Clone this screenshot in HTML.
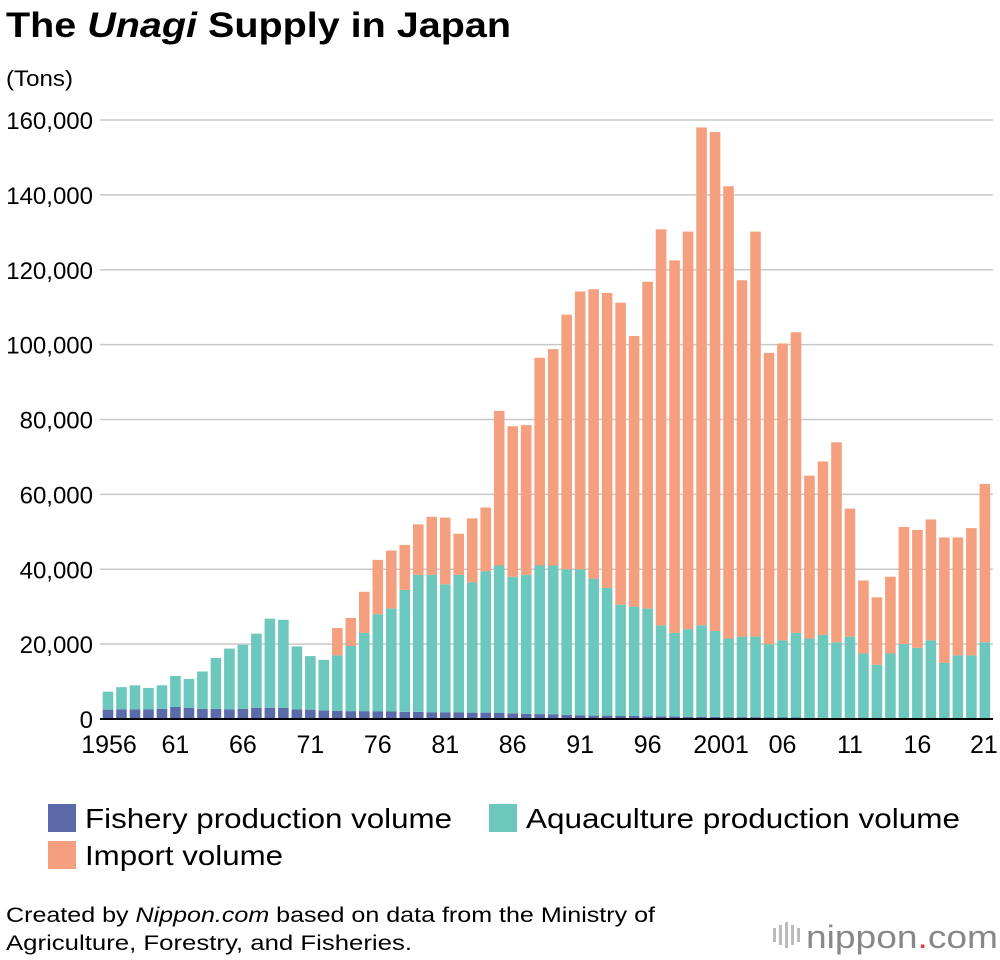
<!DOCTYPE html>
<html><head><meta charset="utf-8">
<style>
body{margin:0;background:#fff;font-family:"Liberation Sans",sans-serif;}
#wrap{position:relative;width:1000px;height:960px;overflow:hidden;}
</style></head>
<body>
<div id="wrap">
<svg id="chart" width="1000" height="960" font-family="Liberation Sans, sans-serif">
  <text x="6" y="37" font-size="35" font-weight="bold" textLength="505" lengthAdjust="spacingAndGlyphs">The <tspan font-style="italic">Unagi</tspan> Supply in Japan</text>
  <text x="6" y="86" font-size="22" textLength="67" lengthAdjust="spacingAndGlyphs">(Tons)</text>
  <g id="grid"></g>
  <g id="bars"></g>
  <g id="xticks"></g>
  <line x1="100" y1="719" x2="993" y2="719" stroke="#000" stroke-width="2"/>
  <rect x="48" y="804" width="28" height="28" fill="#5a6aab"/>
  <text x="85" y="828" font-size="28" textLength="367" lengthAdjust="spacingAndGlyphs">Fishery production volume</text>
  <rect x="489" y="804" width="28" height="28" fill="#6cc8bc"/>
  <text x="526" y="828" font-size="28" textLength="434" lengthAdjust="spacingAndGlyphs">Aquaculture production volume</text>
  <rect x="48" y="841" width="28" height="28" fill="#f4a07e"/>
  <text x="85" y="865" font-size="28" textLength="198" lengthAdjust="spacingAndGlyphs">Import volume</text>
  <text x="6" y="922" font-size="21" textLength="649" lengthAdjust="spacingAndGlyphs">Created by <tspan font-style="italic">Nippon.com</tspan> based on data from the Ministry of</text>
  <text x="6" y="950" font-size="21" textLength="406" lengthAdjust="spacingAndGlyphs">Agriculture, Forestry, and Fisheries.</text>
  <g>
    <rect x="773" y="928" width="3" height="14" fill="#bbb"/><rect x="779" y="925" width="3" height="20" fill="#bbb"/><rect x="785" y="922" width="3" height="26" fill="#bbb"/><rect x="791" y="925" width="3" height="20" fill="#bbb"/><rect x="797" y="928" width="3" height="14" fill="#bbb"/>
    <text x="806" y="948" font-size="32" fill="#888" textLength="192" lengthAdjust="spacingAndGlyphs">nippon<tspan fill="#e33">.</tspan>com</text>
  </g>
</svg>
</div>
<script>
const years = [];
for (let y = 1956; y <= 2021; y++) years.push(y);
const fishery = [2500,2600,2600,2600,2700,3200,3000,2700,2700,2600,2700,3000,3000,3000,2600,2500,2300,2200,2100,2100,2000,2000,1900,1900,1800,1800,1800,1700,1700,1600,1500,1400,1300,1200,1100,1000,900,900,800,800,700,700,700,600,600,600,500,500,500,400,400,400,300,300,300,300,200,200,100,100,100,100,100,100,100,100];
const aquaculture = [4800,5900,6400,5700,6300,8300,7700,10000,13600,16200,17100,19800,23800,23500,16800,14300,13500,14800,17400,20900,26000,27500,32600,36600,36700,34200,36700,34800,37800,39400,36500,37100,39700,39800,38900,39000,36600,34100,29700,29200,28800,24300,22300,23400,24400,22900,21000,21500,21500,19600,20600,22600,21200,22200,20200,21700,17300,14300,17400,19900,18900,20900,14900,16900,16900,20400];
const imports = [0,0,0,0,0,0,0,0,0,0,0,0,0,0,0,0,0,7300,7500,11000,14500,15500,12000,13500,15500,17800,11000,17100,17000,41300,40200,40000,55500,57800,68000,74200,77300,78800,80700,72300,87300,105800,99500,106200,133000,133300,120800,95200,108200,77800,79300,80300,43500,46300,53400,34200,19500,18000,20500,31300,31500,32300,33500,31500,34000,42300];
const yTicks = [0,20000,40000,60000,80000,100000,120000,140000,160000];
const xTickLabels = ["1956","61","66","71","76","81","86","91","96","2001","06","11","16","21"];

const NS = "http://www.w3.org/2000/svg";
const y0 = 719, yPer = (719 - 120) / 160000;
const yScale = v => y0 - v * yPer;
const x0 = 108, step = 13.49;
const xScale = i => x0 + i * step;
const bw = 10.6;

function mk(tag, attrs, parent) {
  const e = document.createElementNS(NS, tag);
  for (const k in attrs) e.setAttribute(k, attrs[k]);
  parent.appendChild(e);
  return e;
}
const grid = document.getElementById('grid');
yTicks.forEach(t => {
  if (t > 0) {
    const l = mk('line', {x1: 100, x2: 993, y1: yScale(t), y2: yScale(t), stroke: '#c8c8c8', 'stroke-width': 1.5}, grid);
    
    
  }
  const tx = mk('text', {x: 93, y: yScale(t) + 9, 'font-size': 24, 'text-anchor': 'end'}, grid);
  tx.textContent = t.toLocaleString('en-US');
  
  
});
const bars = document.getElementById('bars');
years.forEach((yr, i) => {
  const cx = xScale(i);
  const segs = [[fishery[i], '#5a6aab', 'bar-fishery'], [aquaculture[i], '#6cc8bc', 'bar-aquaculture'], [imports[i], '#f4a07e', 'bar-import']];
  let base = 0;
  segs.forEach(s => {
    if (s[0] > 0) {
      const r = mk('rect', {x: cx - bw / 2, y: yScale(base + s[0]), width: bw, height: s[0] * yPer, fill: s[1]}, bars);
      
      
    }
    base += s[0];
  });
});
const xt = document.getElementById('xticks');
xTickLabels.forEach((lab, k) => {
  const i = k * 5;
  let x = xScale(i);
  if (k === 0) x += 1;
  if (k === xTickLabels.length - 1) x -= 1;
  if (k === 9) x += 6;
  const t = mk('text', {x: x, y: 753, 'font-size': 25, 'text-anchor': 'middle'}, xt);
  t.textContent = lab;
  
  
});
</script>
</body></html>
